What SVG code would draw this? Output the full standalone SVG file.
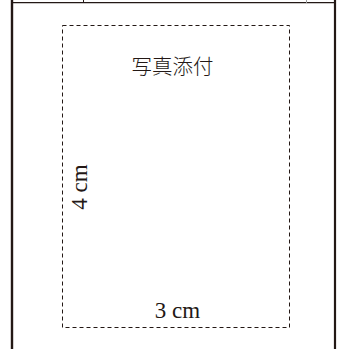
<svg xmlns="http://www.w3.org/2000/svg" width="338" height="349" viewBox="0 0 338 349">
<style>
.ln{stroke:#231815;fill:none}
.dash{stroke:#231815;fill:none;stroke-width:1;stroke-dasharray:4 3}
.lat{font-family:"Liberation Serif","DejaVu Serif",serif;font-size:23px;fill:#231815}
.cjk{font-family:"Noto Sans CJK JP","Noto Sans CJK SC",sans-serif;font-size:20.5px;font-weight:300;fill:#231815}
</style>
<rect width="338" height="349" fill="#fff"/>
<g id="frame">
<line class="ln" x1="12" y1="0" x2="12" y2="349" stroke-width="2.4"/>
<line class="ln" x1="335" y1="0" x2="335" y2="349" stroke-width="2.2"/>
<line class="ln" x1="11" y1="2.7" x2="336" y2="2.7" stroke-width="1.3"/>
<line class="ln" x1="83.5" y1="0" x2="83.5" y2="3" stroke-width="1"/>
<line x1="306.5" y1="0" x2="306.5" y2="3" stroke="#999" stroke-width="1"/>
</g>
<g id="photo-box">
<rect class="dash" x="62.5" y="25.5" width="227" height="302"/>
<text class="cjk" x="172.5" y="73.5" text-anchor="middle">写真添付</text>
<text class="lat" x="177.5" y="317.5" text-anchor="middle">3 cm</text>
<text class="lat" transform="translate(86.5,187) rotate(-90)" text-anchor="middle">4 cm</text>
</g>
</svg>
